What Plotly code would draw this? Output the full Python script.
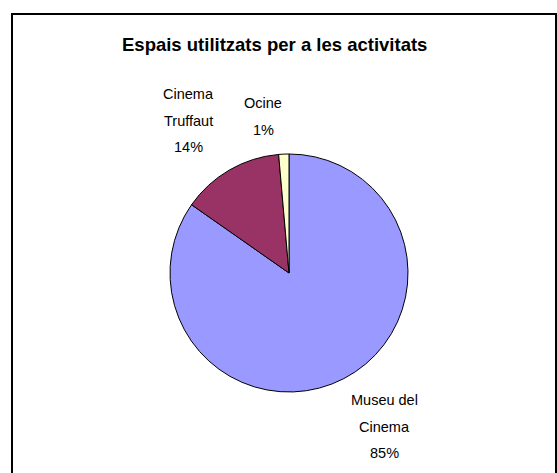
import plotly.graph_objects as go

W, H = 557, 473

categories = ["Museu del Cinema", "Cinema Truffaut", "Ocine"]
values = [61, 10, 1]
colors = ["#9999FF", "#993366", "#FFFFCC"]
label_lines = [["Museu del", "Cinema", "85%"], ["Cinema", "Truffaut", "14%"], ["Ocine", "1%"]]
title = "Espais utilitzats per a les activitats"

# label anchor (pixel) positions and line spacing
label_pos = [(384, 400), (188, 94), (263, 103)]
line_step = 26.5

def px(x):
    return x / W

def py(y):
    return 1 - y / H

fig = go.Figure()
fig.add_trace(go.Pie(
    labels=categories,
    values=values,
    marker=dict(colors=colors, line=dict(color="black", width=1)),
    sort=False,
    direction="clockwise",
    rotation=0,
    textinfo="none",
    hoverinfo="label+percent",
    showlegend=False,
    domain=dict(x=[px(170), px(408)], y=[py(392), py(154)]),
))

annotations = [dict(
    text="<b>" + title + "</b>", x=px(274), y=py(45), xref="paper", yref="paper",
    showarrow=False, xanchor="center", yanchor="middle",
    font=dict(family="Liberation Sans, Arial, sans-serif", size=18.5, color="black"),
)]
for (cx, cy), lines in zip(label_pos, label_lines):
    for i, t in enumerate(lines):
        annotations.append(dict(
            text=t, x=px(cx), y=py(cy + i * line_step), xref="paper", yref="paper",
            showarrow=False, xanchor="center", yanchor="middle",
            font=dict(family="Liberation Sans, Arial, sans-serif", size=14.5, color="black"),
        ))

fig.update_layout(
    width=W, height=H,
    margin=dict(l=0, r=0, t=0, b=0),
    paper_bgcolor="white",
    plot_bgcolor="white",
    annotations=annotations,
    shapes=[dict(type="rect", xref="paper", yref="paper",
                 x0=px(12), x1=px(556), y0=py(14), y1=py(480),
                 line=dict(color="black", width=2), fillcolor="rgba(0,0,0,0)")],
)

fig.write_html("out.html", config={"displayModeBar": False},
               post_script="document.body.style.margin='0';document.body.style.overflow='hidden';")
